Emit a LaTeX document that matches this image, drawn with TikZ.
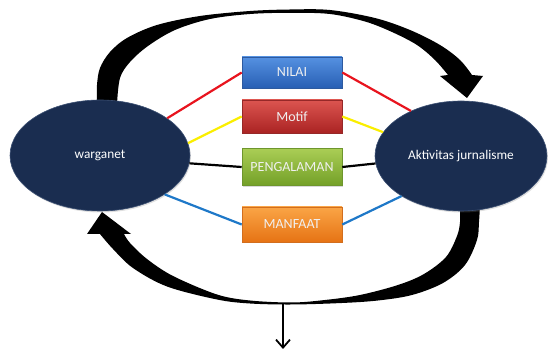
\documentclass[tikz,border=0pt]{standalone}
\usepackage{fontspec}
\setmainfont{Carlito}
\usetikzlibrary{arrows.meta,shapes.geometric,shadows}
\definecolor{navy}{RGB}{26,45,80}
\definecolor{navyedge}{RGB}{60,80,115}
\definecolor{linered}{RGB}{232,20,30}
\definecolor{lineyellow}{RGB}{250,238,0}
\definecolor{lineblue}{RGB}{30,120,200}
\definecolor{bluetop}{RGB}{85,145,225}
\definecolor{bluebot}{RGB}{40,95,180}
\definecolor{bluedge}{RGB}{45,90,160}
\definecolor{redtop}{RGB}{220,85,80}
\definecolor{redbot}{RGB}{170,35,35}
\definecolor{rededge}{RGB}{150,40,40}
\definecolor{greentop}{RGB}{170,205,85}
\definecolor{greenbot}{RGB}{115,160,40}
\definecolor{greenedge}{RGB}{110,150,45}
\definecolor{orangetop}{RGB}{250,165,70}
\definecolor{orangebot}{RGB}{230,115,20}
\definecolor{orangeedge}{RGB}{210,110,30}
\begin{document}
\begin{tikzpicture}[x=1pt,y=-1pt,
  ell/.style={ellipse, fill=navy, draw=navyedge, line width=0.6pt, inner sep=0pt,
    text=white, font=\fontsize{13.3}{15}\selectfont,
    drop shadow={opacity=0.25, shadow xshift=1pt, shadow yshift=-1.5pt}},
  box/.style={rectangle, minimum width=100pt, inner sep=0pt, line width=0.6pt,
    text=white!94!black, font=\fontsize{14}{16}\selectfont,
    drop shadow={opacity=0.3, shadow xshift=1pt, shadow yshift=-1.5pt}},
  link/.style={line width=2.2pt},
  bigarrow/.style={fill=black}
]
\useasboundingbox (0,0) rectangle (550,352);

% upper curved arrow
\fill[bigarrow] plot[smooth, tension=0.55] coordinates {(97,104) (97,85) (100,68) (110,52) (127,38) (157,25) (200,16) (250,11) (290,9.5) (330,10) (375,18) (410,30) (440,45) (460,60) (472,75)}
  -- (483,76) -- (467,98) -- (440,76)
  -- plot[smooth, tension=0.55] coordinates {(448,75) (435,60) (417,45) (392,32) (365,21.5) (330,14) (290,12.8) (250,14) (210,19) (175,30) (148,46) (130,62) (120,78) (117,104)} -- cycle;

% lower curved arrow
\fill[bigarrow] plot[smooth, tension=0.55] coordinates {(480,205) (479,222) (477,240) (465,265) (443,283) (412,295) (378,300.5) (342,303) (292,304.5) (250,303.5) (217,299.5) (167,286.5) (133,268) (113,249) (100,234)}
  -- (87,234) -- (102,212) -- (131,234)
  -- plot[smooth, tension=0.55] coordinates {(124,234) (130,243) (147,259) (173,276) (217,294.5) (250,300.5) (292,302.5) (325,300) (360,295) (398,285) (424,274) (446,257) (457,236) (460,222) (460,205)} -- cycle;

% down arrow
\coordinate (dtop) at (283,303);
\coordinate (dend) at (283,349);
\draw[line width=1.8pt, -{Straight Barb[length=8pt, width=14pt, line width=1.8pt]}] (dtop) -- (dend);

% ellipses
\node[ell, minimum width=180pt, minimum height=111pt] (w) at (100,155.5) {warganet};
\node[ell, minimum width=172pt, minimum height=110pt] (aj) at (461,156) {Aktivitas jurnalisme};

% boxes
\node[box, minimum height=31pt, top color=bluetop, bottom color=bluebot, draw=bluedge] (nilai) at (292,72.5) {NILAI};
\node[box, minimum height=33pt, top color=redtop, bottom color=redbot, draw=rededge] (motif) at (292,116.5) {Motif};
\node[box, minimum height=37pt, top color=greentop, bottom color=greenbot, draw=greenedge] (peng) at (292,167) {PENGALAMAN};
\node[box, minimum height=35pt, top color=orangetop, bottom color=orangebot, draw=orangeedge] (manf) at (292,224.5) {MANFAAT};

% links
\draw[link, linered] (w.29) -- (nilai.west);
\draw[link, linered] (nilai.east) -- (aj.138);
\draw[link, lineyellow] (w.8) -- (motif.west);
\draw[link, lineyellow] (motif.east) -- (aj.163);
\draw[link, black] (w.-5) -- (peng.west);
\draw[link, black] (peng.east) -- (aj.185);
\draw[link, lineblue] (w.-31) -- (manf.west);
\draw[link, lineblue] (manf.east) -- (aj.214);
\end{tikzpicture}
\end{document}
